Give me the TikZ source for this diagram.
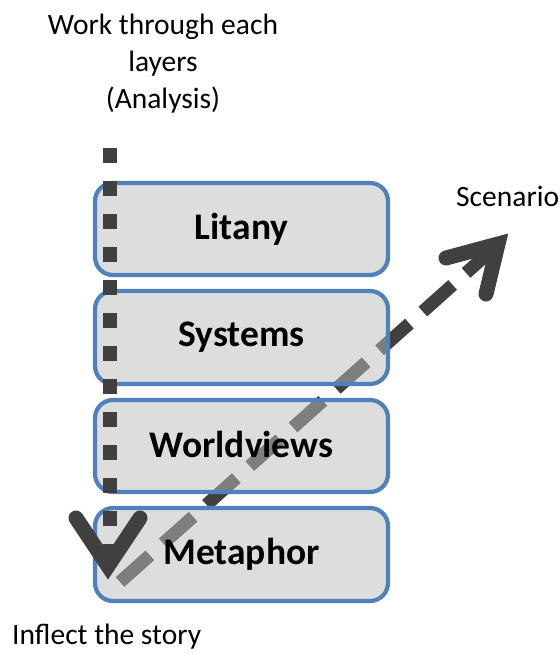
\documentclass[tikz,border=0pt]{standalone}
\usepackage{fontspec}
\setmainfont{Carlito}
\definecolor{boxblue}{HTML}{4F81BD}
\definecolor{darkg}{HTML}{404040}
\newcommand{\lift}[1]{\raisebox{3pt}{#1}}
\begin{document}
\begin{tikzpicture}[x=1pt,y=-1pt,
  layer/.style={draw=boxblue, line width=4.2pt, rounded corners=18pt, fill=black!26, fill opacity=0.5, text opacity=1,
    minimum width=293pt, inner sep=0pt, font=\bfseries\fontsize{37.5}{40}\selectfont},
  lbl/.style={font=\fontsize{29.5}{37}\selectfont, align=center, inner sep=0pt},
  dots/.style={draw=darkg, line width=14pt, dash pattern=on 15pt off 18pt},
  shaft/.style={draw=darkg, line width=13pt, dash pattern=on 40pt off 18pt},
  head/.style={draw=darkg, line width=15pt, line cap=round, line join=miter}]
\useasboundingbox (0,0) rectangle (560,654);
\fill[white] (0,0) rectangle (560,654);
% diagonal dashed arrow (behind boxes)
\coordinate (s) at (120,582);
\coordinate (e) at (494,248);
\coordinate (ht) at (498,244);
\coordinate (ha) at (446,258);
\coordinate (hb) at (486,294);
\draw[shaft] (s) -- (e);
\draw[head] (ha) -- (ht) -- (hb);
% layers
\node[layer, minimum height=92pt] (litany) at (241.5,229) {\lift{Litany}};
\node[layer, minimum height=93pt] (systems) at (241.5,337.5) {\lift{Systems}};
\node[layer, minimum height=92pt] (world) at (241.5,446) {\lift{Worldviews}};
\node[layer, minimum height=93pt] (metaphor) at (241.5,554.5) {\lift{Metaphor}};
% vertical dotted arrow
\coordinate (vs) at (110,148);
\coordinate (ve) at (110,560);
\draw[dots] (vs) -- (ve);
\coordinate (vt) at (108,566);
\coordinate (va) at (76,518);
\coordinate (vb) at (140,518);
\draw[head] (va) -- (vt) -- (vb);
% labels
\node[lbl] (work) at (163,64) {Work through each\\layers\\(Analysis)};
\node[lbl, anchor=west] (scen) at (456,196) {Scenario};
\node[lbl, anchor=west] (infl) at (12,637) {Inflect the story};
\end{tikzpicture}
\end{document}
